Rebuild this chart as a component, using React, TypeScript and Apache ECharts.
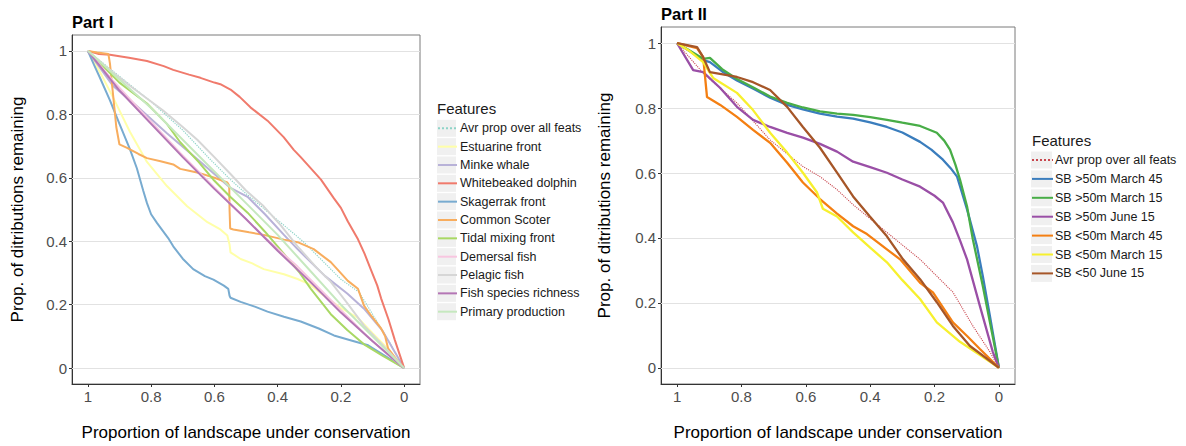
import React, { useEffect, useRef } from "react";
import * as echarts from "echarts";

// ---------- texts ----------
const partITitle = "Part I";
const partIITitle = "Part II";
const legendTitle = "Features";
const xTitle = "Proportion of landscape under conservation";
const yTitle = "Prop. of ditributions remaining";
const tickValues = [0, 0.2, 0.4, 0.6, 0.8, 1];

// ---------- Part I data ([proportion of landscape, proportion remaining]) ----------
const avrPropI = [[1,1],[0.9,0.92],[0.8,0.84],[0.7,0.75],[0.62,0.665],[0.55,0.595],[0.5,0.55],[0.44,0.5],[0.38,0.45],[0.317,0.397],[0.25,0.33],[0.2,0.28],[0.143,0.24],[0.1,0.17],[0.048,0.084],[0,0]];
const estuarineFront = [[1,1],[0.96,0.93],[0.921,0.855],[0.867,0.745],[0.813,0.65],[0.75,0.574],[0.686,0.51],[0.622,0.46],[0.581,0.437],[0.559,0.418],[0.552,0.39],[0.549,0.365],[0.517,0.344],[0.48,0.33],[0.444,0.312],[0.38,0.296],[0.337,0.281],[0.3,0.265],[0.25,0.225],[0.2,0.19],[0.146,0.158],[0.1,0.11],[0.05,0.06],[0,0]];
const minkeWhale = [[1,1],[0.921,0.89],[0.85,0.83],[0.75,0.74],[0.65,0.655],[0.549,0.568],[0.495,0.54],[0.44,0.485],[0.38,0.42],[0.337,0.375],[0.25,0.29],[0.18,0.235],[0.127,0.1875],[0.07,0.12],[0,0]];
const whitebeakedDolphin = [[1,1],[0.965,0.99],[0.93,0.988],[0.87,0.978],[0.813,0.968],[0.76,0.952],[0.73,0.94],[0.68,0.925],[0.644,0.915],[0.6,0.9],[0.581,0.895],[0.549,0.878],[0.52,0.855],[0.486,0.822],[0.432,0.78],[0.381,0.728],[0.349,0.688],[0.327,0.665],[0.263,0.594],[0.222,0.535],[0.2,0.505],[0.178,0.462],[0.146,0.406],[0.125,0.36],[0.105,0.31],[0.085,0.26],[0.073,0.22],[0.05,0.155],[0.03,0.09],[0.015,0.045],[0,0]];
const skagerrakFront = [[1,1],[0.98,0.955],[0.962,0.916],[0.93,0.844],[0.898,0.765],[0.867,0.69],[0.845,0.63],[0.825,0.56],[0.813,0.52],[0.8,0.485],[0.781,0.457],[0.746,0.41],[0.73,0.384],[0.7,0.345],[0.667,0.312],[0.63,0.29],[0.603,0.279],[0.57,0.26],[0.556,0.25],[0.552,0.228],[0.549,0.222],[0.517,0.209],[0.47,0.193],[0.432,0.178],[0.38,0.162],[0.327,0.147],[0.27,0.125],[0.222,0.103],[0.159,0.085],[0.114,0.072],[0.063,0.04],[0,0]];
const commonScoter = [[1,1],[0.97,0.995],[0.935,0.99],[0.93,0.96],[0.92,0.86],[0.91,0.76],[0.9,0.705],[0.876,0.694],[0.84,0.675],[0.813,0.662],[0.77,0.652],[0.73,0.642],[0.708,0.628],[0.68,0.622],[0.644,0.614],[0.6,0.6],[0.559,0.585],[0.553,0.575],[0.552,0.5],[0.55,0.44],[0.54,0.437],[0.49,0.428],[0.444,0.42],[0.38,0.405],[0.337,0.397],[0.286,0.375],[0.232,0.334],[0.178,0.275],[0.146,0.25],[0.127,0.197],[0.105,0.166],[0.073,0.125],[0.06,0.1],[0.051,0.0625],[0.019,0.02],[0,0]];
const tidalMixingFront = [[1,1],[0.9,0.9],[0.813,0.834],[0.75,0.77],[0.708,0.712],[0.65,0.65],[0.603,0.594],[0.55,0.54],[0.495,0.49],[0.44,0.43],[0.38,0.36],[0.33,0.3],[0.295,0.25],[0.232,0.17],[0.18,0.12],[0.127,0.075],[0.07,0.04],[0,0]];
const demersalFish = [[1,1],[0.921,0.906],[0.813,0.79],[0.708,0.678],[0.603,0.572],[0.495,0.465],[0.444,0.415],[0.337,0.32],[0.232,0.215],[0.127,0.11],[0.06,0.05],[0,0]];
const pelagicFish = [[1,1],[0.93,0.94],[0.867,0.89],[0.813,0.85],[0.762,0.812],[0.7,0.76],[0.654,0.72],[0.6,0.665],[0.549,0.612],[0.5,0.56],[0.444,0.51],[0.39,0.45],[0.337,0.384],[0.28,0.32],[0.232,0.272],[0.18,0.205],[0.127,0.134],[0.07,0.075],[0,0]];
const fishSpeciesRichness = [[1,1],[0.9,0.875],[0.8,0.77],[0.7,0.665],[0.6,0.565],[0.5,0.47],[0.4,0.37],[0.3,0.275],[0.2,0.175],[0.1,0.085],[0,0]];
const primaryProduction = [[1,1],[0.9,0.91],[0.8,0.82],[0.7,0.72],[0.6,0.62],[0.5,0.52],[0.4,0.42],[0.3,0.31],[0.2,0.2],[0.1,0.1],[0,0]];

const partINames = ["Avr prop over all feats","Estuarine front","Minke whale","Whitebeaked dolphin","Skagerrak front","Common Scoter","Tidal mixing front","Demersal fish","Pelagic fish","Fish species richness","Primary production"];
const partIData = [avrPropI, estuarineFront, minkeWhale, whitebeakedDolphin, skagerrakFront, commonScoter, tidalMixingFront, demersalFish, pelagicFish, fishSpeciesRichness, primaryProduction];
const partIColors = ["#8dd3c7","#ffffa8","#b8b2d8","#f07a6c","#78abd0","#f8ad5e","#a9d864","#f8c6e0","#d6d6d6","#b476b5","#c6e8bf"];

// ---------- Part II data ----------
const avrPropII = [[1,1],[0.919,0.908],[0.814,0.816],[0.711,0.702],[0.609,0.62],[0.556,0.589],[0.503,0.549],[0.45,0.5],[0.348,0.417],[0.245,0.334],[0.143,0.233],[0.081,0.129],[0.028,0.049],[0,0]];
const sbDeepMarch45 = [[1,1],[0.96,0.975],[0.919,0.948],[0.898,0.942],[0.86,0.913],[0.814,0.885],[0.76,0.858],[0.711,0.832],[0.658,0.81],[0.609,0.796],[0.556,0.783],[0.503,0.774],[0.453,0.768],[0.4,0.756],[0.348,0.742],[0.3,0.725],[0.245,0.696],[0.21,0.672],[0.174,0.641],[0.15,0.615],[0.13,0.589],[0.115,0.54],[0.099,0.488],[0.068,0.374],[0.05,0.282],[0.028,0.16],[0,0]];
const sbDeepMarch15 = [[1,1],[0.96,0.977],[0.919,0.952],[0.898,0.955],[0.86,0.92],[0.814,0.89],[0.76,0.862],[0.711,0.836],[0.658,0.816],[0.609,0.802],[0.556,0.79],[0.503,0.783],[0.453,0.779],[0.4,0.772],[0.348,0.764],[0.3,0.755],[0.245,0.745],[0.193,0.724],[0.17,0.7],[0.152,0.672],[0.135,0.625],[0.121,0.58],[0.099,0.497],[0.081,0.396],[0.05,0.252],[0.028,0.141],[0,0]];
const sbDeepJune15 = [[1,1],[0.95,0.917],[0.919,0.911],[0.866,0.862],[0.814,0.804],[0.764,0.764],[0.711,0.742],[0.658,0.724],[0.609,0.709],[0.556,0.69],[0.503,0.666],[0.453,0.635],[0.4,0.618],[0.348,0.601],[0.3,0.58],[0.245,0.558],[0.2,0.53],[0.174,0.509],[0.143,0.448],[0.12,0.39],[0.099,0.334],[0.059,0.19],[0.019,0.049],[0,0]];
const sbShallowMarch45 = [[1,1],[0.938,0.985],[0.919,0.957],[0.907,0.834],[0.866,0.81],[0.814,0.773],[0.764,0.733],[0.711,0.693],[0.658,0.632],[0.609,0.571],[0.556,0.52],[0.503,0.475],[0.453,0.436],[0.41,0.412],[0.348,0.365],[0.307,0.334],[0.245,0.262],[0.205,0.232],[0.143,0.14],[0.099,0.098],[0.059,0.058],[0,0]];
const sbShallowMarch15 = [[1,1],[0.96,0.975],[0.919,0.942],[0.888,0.893],[0.814,0.847],[0.764,0.794],[0.711,0.724],[0.658,0.663],[0.609,0.601],[0.565,0.54],[0.547,0.49],[0.503,0.466],[0.453,0.417],[0.4,0.37],[0.348,0.325],[0.3,0.27],[0.245,0.212],[0.193,0.14],[0.121,0.08],[0.06,0.04],[0,0]];
const sbShallowJune15 = [[1,1],[0.938,0.988],[0.919,0.957],[0.898,0.911],[0.814,0.896],[0.764,0.88],[0.711,0.856],[0.658,0.804],[0.609,0.742],[0.556,0.678],[0.503,0.601],[0.453,0.528],[0.401,0.466],[0.348,0.405],[0.298,0.334],[0.245,0.273],[0.193,0.202],[0.143,0.129],[0.09,0.067],[0.04,0.03],[0,0]];

const partIINames = ["Avr prop over all feats","SB >50m March 45","SB >50m March 15","SB >50m June 15","SB <50m March 45","SB <50m March 15","SB <50 June 15"];
const partIIData = [avrPropII, sbDeepMarch45, sbDeepMarch15, sbDeepJune15, sbShallowMarch45, sbShallowMarch15, sbShallowJune15];
const partIIColors = ["#c8464e","#3a7dbd","#48ad47","#9a4fa6","#f47f12","#f7f02e","#a65628"];
const partIISuffix = " (Part II)";

const FONT = "'Liberation Sans', Arial, sans-serif";

function buildOption() {
  const grids = [
    { left: 72, top: 35, width: 348, height: 351 },
    { left: 661, top: 27, width: 354, height: 359 },
  ];
  const xAxes = grids.map((_, i) => ({
    type: "value", gridIndex: i, min: -0.05, max: 1.05, inverse: true,
    name: xTitle, nameLocation: "middle", nameGap: 40,
    nameTextStyle: { fontSize: 17, color: "#000", fontFamily: FONT },
    axisLine: { show: true, onZero: false, lineStyle: { color: "#333", width: 1 } },
    axisTick: { show: true, length: 3, customValues: tickValues, lineStyle: { color: "#333" } },
    axisLabel: { customValues: tickValues, margin: 5, fontSize: 15, color: "#4d4d4d", fontFamily: FONT, formatter: (v: number) => String(v) },
    splitLine: { show: false },
  }));
  const yAxes = grids.map((_, i) => ({
    type: "value", gridIndex: i, min: -0.05, max: 1.05,
    name: yTitle, nameLocation: "middle", nameGap: i === 0 ? 46 : 48,
    nameTextStyle: { fontSize: 17, color: "#000", fontFamily: FONT },
    axisLine: { show: true, onZero: false, lineStyle: { color: "#333", width: 1 } },
    axisTick: { show: true, length: 3, customValues: tickValues, lineStyle: { color: "#333" } },
    axisLabel: { customValues: tickValues, margin: 5, fontSize: 15, color: "#4d4d4d", fontFamily: FONT, formatter: (v: number) => String(v) },
    splitLine: { show: false },
  }));

  const gridLineMark = {
    silent: true, symbol: ["none", "none"], z: 1,
    label: { show: false },
    lineStyle: { color: "#e2e2e2", width: 1, type: "solid" },
    emphasis: { disabled: true },
    data: tickValues.map((v) => ({ yAxis: v })),
  };

  const series: any[] = [];
  partIData.forEach((d, i) => {
    series.push({
      type: "line", name: partINames[i], data: d, xAxisIndex: 0, yAxisIndex: 0,
      symbol: "none", z: 2,
      lineStyle: { color: partIColors[i], width: i === 0 ? 1.2 : 2, type: i === 0 ? "dotted" : "solid" },
      itemStyle: { color: partIColors[i] },
      emphasis: { disabled: true },
      ...(i === 0 ? { markLine: gridLineMark } : {}),
    });
  });
  partIIData.forEach((d, i) => {
    series.push({
      type: "line", name: i === 0 ? partIINames[i] + partIISuffix : partIINames[i], data: d, xAxisIndex: 1, yAxisIndex: 1,
      symbol: "none", z: 2,
      lineStyle: { color: partIIColors[i], width: i === 0 ? 1.1 : 2.3, type: i === 0 ? "dotted" : "solid" },
      itemStyle: { color: partIIColors[i] },
      emphasis: { disabled: true },
      ...(i === 0 ? { markLine: gridLineMark } : {}),
    });
  });

  const leg1 = { left: 437, top: 119.8, itemH: 17, gap: 1.34, keyW: 19 };
  const leg2 = { left: 1031, top: 151.5, itemH: 17, gap: 1.9, keyW: 21 };

  const keyRects: any[] = [];
  partINames.forEach((_, i) => keyRects.push({
    type: "rect", z: 0, silent: true,
    shape: { x: leg1.left, y: leg1.top + i * (leg1.itemH + leg1.gap), width: leg1.keyW, height: leg1.itemH },
    style: { fill: "#f0f0f0" },
  }));
  partIINames.forEach((_, i) => keyRects.push({
    type: "rect", z: 0, silent: true,
    shape: { x: leg2.left, y: leg2.top + i * (leg2.itemH + leg2.gap), width: leg2.keyW, height: leg2.itemH },
    style: { fill: "#f0f0f0" },
  }));

  const legendCommon = {
    orient: "vertical", padding: 0, selectedMode: false,
    itemStyle: { opacity: 0, borderWidth: 0 },
  };

  return {
    animation: false,
    backgroundColor: "#fff",
    textStyle: { fontFamily: FONT },
    title: [
      { text: partITitle, left: 72, top: 13, padding: 0, textStyle: { fontSize: 16.5, fontWeight: "bold", color: "#000", fontFamily: FONT } },
      { text: partIITitle, left: 661, top: 5, padding: 0, textStyle: { fontSize: 16.5, fontWeight: "bold", color: "#000", fontFamily: FONT } },
    ],
    grid: grids.map((g) => ({ ...g, show: true, borderColor: "#7a7a7a", borderWidth: 1, backgroundColor: "transparent" })),
    xAxis: xAxes,
    yAxis: yAxes,
    legend: [
      {
        ...legendCommon,
        data: partINames, left: leg1.left, top: leg1.top,
        itemWidth: leg1.keyW, itemHeight: leg1.itemH, itemGap: leg1.gap,
        textStyle: { fontSize: 12.5, lineHeight: leg1.itemH, height: leg1.itemH, color: "#1a1a1a", fontFamily: FONT, padding: [0, 0, 0, -2] },
      },
      {
        ...legendCommon,
        data: partIINames.map((n, i) => (i === 0 ? n + partIISuffix : n)), left: leg2.left, top: leg2.top,
        itemWidth: leg2.keyW, itemHeight: leg2.itemH, itemGap: leg2.gap,
        formatter: (name: string) => name.replace(partIISuffix, ""),
        textStyle: { fontSize: 12.5, lineHeight: leg2.itemH, height: leg2.itemH, color: "#1a1a1a", fontFamily: FONT, padding: [0, 0, 0, -3] },
      },
    ],
    graphic: [
      ...keyRects,
      { type: "text", z: 5, x: 437, y: 108, style: { text: legendTitle, fontSize: 15, fill: "#1a1a1a", fontFamily: FONT, textVerticalAlign: "middle" } },
      { type: "text", z: 5, x: 1032, y: 140, style: { text: legendTitle, fontSize: 15, fill: "#1a1a1a", fontFamily: FONT, textVerticalAlign: "middle" } },
    ],
    series,
  };
}

export default function App() {
  const ref = useRef<HTMLDivElement>(null);
  useEffect(() => {
    if (!ref.current) return;
    const chart = echarts.init(ref.current, undefined, { renderer: "svg" });
    chart.setOption(buildOption() as any);
    return () => chart.dispose();
  }, []);
  return <div ref={ref} style={{ position: "fixed", left: 0, top: 0, width: 1186, height: 446 }} />;
}
